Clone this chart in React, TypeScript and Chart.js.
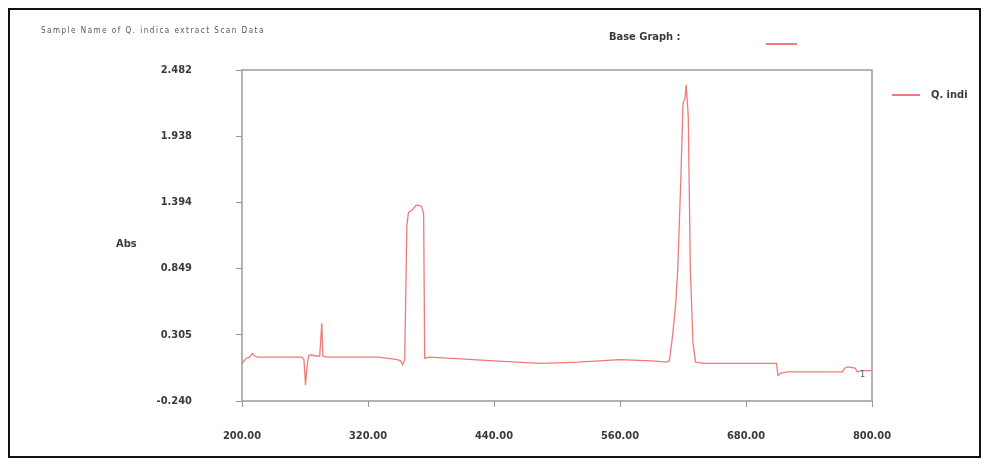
import React, { useEffect, useRef } from "react";
import { Chart, registerables } from "chart.js";

Chart.register(...registerables);

// Wavelength (nm) and absorbance
const wavelengths = [
  200, 201, 204, 207, 210, 212, 215, 240, 257, 259, 260.5, 262, 263.5, 266, 270, 274, 276, 277, 280,
  300, 330, 348, 351, 353, 355, 357, 358.5, 362, 366, 368, 371, 373, 374, 378, 400, 440, 484, 520,
  560, 590, 604, 607, 610, 613, 615, 618, 620, 622, 623, 624, 625, 627, 629.5, 632, 640, 660, 700,
  709, 710.5, 713, 720, 760, 772, 774, 777, 784, 786, 790, 800,
];
const absorbance = [
  0.06, 0.08, 0.11, 0.12, 0.15, 0.13, 0.12, 0.12, 0.12, 0.1, -0.11, 0.05, 0.13, 0.14, 0.13, 0.13, 0.4, 0.13, 0.12,
  0.12, 0.12, 0.1, 0.09, 0.06, 0.1, 1.2, 1.31, 1.33, 1.37, 1.37, 1.36, 1.3, 0.11, 0.12, 0.11, 0.09, 0.07, 0.08,
  0.1, 0.09, 0.08, 0.09, 0.29, 0.55, 0.84, 1.6, 2.21, 2.25, 2.36, 2.24, 2.1, 0.84, 0.24, 0.08, 0.07, 0.07, 0.07,
  0.07, -0.03, -0.01, 0.0, 0.0, 0.0, 0.03, 0.04, 0.03, 0.0, 0.01, 0.01,
];
const xTicks = [200, 320, 440, 560, 680, 800];
const yTicks = [-0.24, 0.305, 0.849, 1.394, 1.938, 2.482];
const xTickLabels = ["200.00", "320.00", "440.00", "560.00", "680.00", "800.00"];
const yTickLabels = ["-0.240", "0.305", "0.849", "1.394", "1.938", "2.482"];
const seriesName = "Q. indi";
const titleText = "Sample Name of Q. indica extract Scan Data";
const baseGraphLabel = "Base Graph :";
const axisTitle = "Abs";

const FONT = "'Liberation Sans Narrow', 'DejaVu Sans Condensed', 'Liberation Sans', sans-serif";
const LINE = "#f07a7a";

const frame = {
  id: "frame",
  afterDraw(chart: any) {
    const { ctx, chartArea: a } = chart;
    ctx.save();
    ctx.strokeStyle = "#9a9a9a";
    ctx.lineWidth = 1.5;
    ctx.strokeRect(a.left, a.top, a.right - a.left, a.bottom - a.top);
    ctx.restore();
  },
};

export default function App() {
  const ref = useRef<HTMLCanvasElement>(null);
  useEffect(() => {
    if (!ref.current) return;
    const chart = new Chart(ref.current, {
      type: "line",
      data: {
        datasets: [
          {
            label: seriesName,
            data: wavelengths.map((x, i) => ({ x, y: absorbance[i] })),
            borderColor: LINE,
            borderWidth: 1.3,
            pointRadius: 0,
            tension: 0,
            fill: false,
          },
        ],
      },
      options: {
        animation: false,
        responsive: false,
        maintainAspectRatio: false,
        events: [],
        layout: { padding: { left: 100, right: 117, top: 70, bottom: 15 } },
        plugins: { legend: { display: false }, title: { display: false }, tooltip: { enabled: false } },
        scales: {
          x: {
            type: "linear",
            min: 200,
            max: 800,
            afterFit: (s: any) => {
              s.height = 50;
            },
            afterBuildTicks: (s: any) => {
              s.ticks = xTicks.map((v) => ({ value: v }));
            },
            ticks: {
              autoSkip: false,
              maxRotation: 0,
              padding: 23,
              color: "#3a3a3a",
              font: { family: FONT, size: 11, weight: "bold" },
              callback: (v: any) => xTickLabels[xTicks.indexOf(Number(v))] ?? "",
            },
            grid: { display: true, drawOnChartArea: false, drawTicks: true, tickLength: 6, color: "#999" },
            border: { display: false },
          },
          y: {
            type: "linear",
            min: -0.24,
            max: 2.482,
            afterFit: (s: any) => {
              s.width = 142;
            },
            afterBuildTicks: (s: any) => {
              s.ticks = yTicks.map((v) => ({ value: v }));
            },
            ticks: {
              autoSkip: false,
              padding: 44,
              color: "#3a3a3a",
              font: { family: FONT, size: 11, weight: "bold" },
              callback: (v: any) => {
                const i = yTicks.findIndex((t) => Math.abs(t - Number(v)) < 1e-6);
                return i >= 0 ? yTickLabels[i] : "";
              },
            },
            grid: { display: true, drawOnChartArea: false, drawTicks: true, tickLength: 6, color: "#999" },
            border: { display: false },
          },
        },
      },
      plugins: [frame],
    });
    return () => chart.destroy();
  }, []);

  const txt: React.CSSProperties = {
    position: "absolute",
    fontFamily: FONT,
    fontWeight: "bold",
    color: "#3a3a3a",
    fontSize: 11,
    whiteSpace: "nowrap",
    lineHeight: "12px",
  };

  return (
    <div style={{ position: "absolute", left: 0, top: 0, width: 989, height: 466, background: "#fff", overflow: "hidden" }}>
      <canvas ref={ref} width={989} height={466} style={{ position: "absolute", left: 0, top: 0, width: 989, height: 466 }} />
      <div
        style={{
          position: "absolute",
          left: 8,
          top: 8,
          width: 973,
          height: 450,
          border: "2px solid #111",
          boxSizing: "border-box",
          pointerEvents: "none",
        }}
      />
      <div style={{ ...txt, left: 41, top: 25, fontSize: 8, color: "#555", fontWeight: "normal", letterSpacing: 1.5 }}>{titleText}</div>
      <div style={{ ...txt, left: 609, top: 31 }}>{baseGraphLabel}</div>
      <div style={{ position: "absolute", left: 766, top: 43, width: 31, height: 1.5, background: LINE }} />
      <div style={{ position: "absolute", left: 892, top: 94, width: 28, height: 1.5, background: LINE }} />
      <div style={{ ...txt, left: 931, top: 89 }}>{seriesName}</div>
      <div style={{ ...txt, left: 116, top: 238 }}>{axisTitle}</div>
      <div style={{ ...txt, left: 860, top: 368, fontSize: 9, color: "#555", fontWeight: "normal" }}>1</div>
    </div>
  );
}
